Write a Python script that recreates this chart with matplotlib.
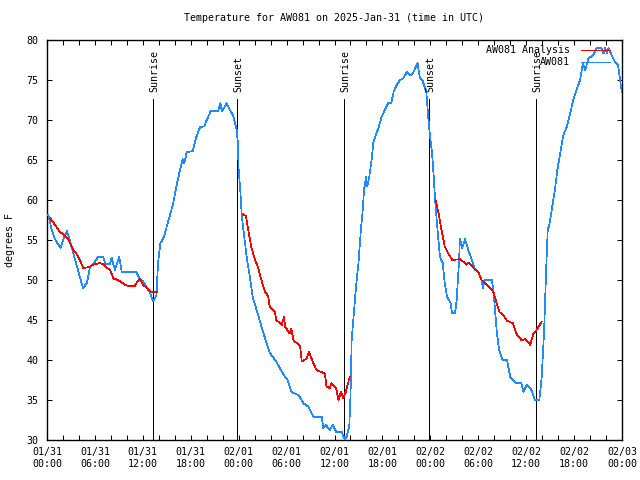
import numpy as np
import matplotlib
matplotlib.use("Agg")
import matplotlib.pyplot as plt
from matplotlib.lines import Line2D

# ---- data (hours since 2025-01-31 00:00 UTC) ----
obs_hours = [0.16,0.6,1.0,1.7,2.0,2.5,2.8,3.3,3.7,4.5,
             5.0,5.4,5.8,6.4,7.05,7.3,7.9,8.1,8.5,9.05,
             9.35,11.2,11.65,12.0,12.5,12.9,13.3,13.7,13.9,14.2,
             14.65,15.0,15.4,15.8,16.2,16.65,17.0,17.2,17.5,18.25,
             18.7,19.15,19.7,20.0,20.5,21.45,21.7,21.9,22.5,22.9,
             23.3,23.75,23.9,24.0,24.2,24.4,24.7,25.0,25.4,25.75,
             26.25,26.9,27.5,27.9,28.7,29.2,29.8,30.1,30.6,31.5,
             32.1,32.7,33.35,34.4,34.6,34.9,35.4,35.8,36.2,36.9,
             37.3,37.5,37.85,38.0,38.15,38.35,38.7,39.0,39.3,39.5,
             39.7,39.95,40.1,40.35,40.65,40.85,41.1,41.5,41.9,42.3,
             42.7,43.1,43.4,43.8,44.2,44.6,45.05,45.5,45.9,46.4,
             46.7,47.0,47.5,47.75,47.95,48.2,48.4,48.6,48.7,48.9,
             49.2,49.55,49.8,50.1,50.55,50.7,51.1,51.3,51.6,51.7,
             52.0,52.35,52.75,53.2,53.6,54.0,54.4,54.6,54.8,55.7,
             55.9,56.1,56.3,56.6,57.05,57.6,58.0,58.8,59.4,59.65,
             60.1,60.7,61.1,61.65,61.95,62.25,62.5,62.7,62.9,63.2,
             63.6,63.9,64.25,64.65,65.1,65.5,65.9,66.3,66.75,67.1,
             67.4,67.8,68.4,68.8,69.4,69.7,69.9,70.1,70.3,70.7,
             71.1,71.5,71.9,72.0]
obs_temps = [58.1,56.25,55.1,54,55,56.1,55.2,53.3,51.9,49,
             49.6,51.7,52,52.9,52.9,52,52,52.8,51.25,52.9,
             51,51,50,49.9,49,48.4,47.3,48.1,52.1,54.6,
             55.4,56.7,58.1,59.6,61.7,63.75,65.1,64.6,66,66.1,
             67.9,69.1,69.2,70,71.1,71.1,72.1,71.1,72.1,71.25,
             70.6,68.75,67.1,63.75,61.25,57.9,55.4,52.9,50.4,47.9,
             46.25,44,42.1,40.9,39.8,38.9,37.9,37.6,36,35.6,
             34.6,34.2,32.9,32.9,31.5,31.9,31.25,31.9,31,31,
             30,30.4,31.7,35.4,42.5,45,49.2,52.1,56.25,58.3,
             61.25,62.9,61.7,62.9,65,67.1,67.9,69,70.4,71.25,
             72.1,72.1,73.5,74.4,75,75.2,76,75.6,76,77.1,
             75.2,75,73.5,70.2,68.1,66,63.3,60,58.75,56.25,
             52.9,52.1,49.6,47.9,47.1,45.9,45.9,47.5,52.5,55.1,
             54,55.1,53.75,52.5,51.25,51,50,49,50,50,
             48.75,46.25,43.75,41.25,40,40,37.9,37.1,37.1,36,
             36.9,36.2,35,35,37.9,43.75,51.25,56.25,56.9,58.75,
             61.25,63.75,65.8,68.1,69.2,70.8,72.5,73.75,75,77.1,
             76.25,77.7,78.1,79,79,78.3,79,78.3,79,78.1,
             77.3,76.9,74,73.5]

ana_hours = [0.4,1.0,1.6,2.0,2.7,3.3,3.7,4.1,4.55,5.2,
             5.8,6.55,7.05,7.5,7.9,8.3,8.9,9.8,10.4,11.0,
             11.3,11.65,12.0,12.5,13.1,13.8,
             np.nan,
             24.6,24.9,25.2,25.6,26.0,26.45,26.9,27.3,27.7,27.8,
             27.9,28.55,28.7,29.4,29.7,29.8,30.4,30.6,30.85,31.7,
             31.9,32.5,32.8,33.35,33.75,34.8,35.0,35.4,35.6,36.2,
             36.5,36.8,37.1,37.4,37.7,37.9,
             np.nan,
             48.65,49.0,49.4,49.8,50.25,50.75,51.7,52.1,52.55,52.8,
             53.4,54.0,54.4,55.05,55.9,56.3,56.65,57.15,57.6,58.35,
             58.8,59.4,59.9,60.5,60.9,61.3,61.7,61.95]
ana_temps = [57.7,56.9,56,55.75,55,53.75,53.25,52.5,51.5,51.6,
             51.9,52.1,52,51.5,51.3,50.2,50,49.4,49.2,49.25,
             49.8,50.2,49.4,49,48.5,48.5,
             np.nan,
             58.2,58.0,56.25,54,52.7,51.5,49.8,48.5,48.0,47.2,
             46.7,46,45,44.4,45.4,44.2,43.3,43.9,42.5,41.7,
             39.8,40.2,41,39.6,38.75,38.3,36.7,36.5,37.1,36.5,
             35,36,35.2,36,37.1,37.9,
             np.nan,
             60,58.5,56.25,54.2,53.3,52.5,52.6,52.3,51.9,52.2,
             51.5,51,50,49.4,48.5,47.1,46,45.6,44.9,44.6,
             43.25,42.5,42.6,41.9,43.3,43.75,44.4,44.8]

sun_hours = [13.3, 23.83, 37.23, 47.83, 61.27]
sun_labels = ["Sunrise", "Sunset", "Sunrise", "Sunset", "Sunrise"]

xtick_hours = list(range(0, 73, 6))
xtick_labels = ["01/31\n00:00", "01/31\n06:00", "01/31\n12:00", "01/31\n18:00",
                "02/01\n00:00", "02/01\n06:00", "02/01\n12:00", "02/01\n18:00",
                "02/02\n00:00", "02/02\n06:00", "02/02\n12:00", "02/02\n18:00",
                "02/03\n00:00"]
yticks = list(range(30, 81, 5))

series_names = ["AW081 Analysis", "AW081"]
series_colors = ["#ff0000", "#1a8cff"]

# ---- plotting ----
FONT = "DejaVu Sans Mono"
FS = 7.2
LW = 0.5
plt.rcParams['font.family'] = [FONT]
plt.rcParams['font.size'] = FS

fig = plt.figure(figsize=(6.4, 4.8), dpi=100)
ax = fig.add_axes([47/640, 40/480, 575/640, 400/480])

ax.plot(obs_hours, obs_temps, color=series_colors[1], lw=LW, antialiased=False, zorder=3)
ax.plot(ana_hours, ana_temps, color=series_colors[0], lw=LW, antialiased=False, zorder=4)

sun_top = 72.6
for h, lab in zip(sun_hours, sun_labels):
    ax.plot([h, h], [30, sun_top], color="black", lw=LW, antialiased=False, zorder=2)
    ax.text(h + 0.15, sun_top + 0.85, lab, rotation=90, ha="center", va="bottom",
            fontsize=FS, color="black")

ax.set_xlim(0, 72)
ax.set_ylim(30, 80)
ax.set_xticks(xtick_hours)
ax.set_xticklabels(xtick_labels)
ax.set_xticks(np.arange(0, 73, 2), minor=True)
ax.set_yticks(yticks)
ax.tick_params(axis="both", which="both", direction="in", top=True, right=True,
               length=3.5, width=0.75, labelsize=FS)
ax.tick_params(axis="y", pad=6)
ax.tick_params(axis="x", pad=5)
for s in ax.spines.values():
    s.set_linewidth(1.0)

ax.set_ylabel("degrees F", fontsize=FS)
ax.yaxis.set_label_coords(-0.0557, 0.5)
ax.set_title("Temperature for AW081 on 2025-Jan-31 (time in UTC)", fontsize=FS, pad=14)

# legend (manual, gnuplot style: text right-aligned, sample to the right)
for i, (name, col) in enumerate(zip(series_names, series_colors)):
    ypix = 49.7 + 12.6 * i
    yfrac = 1 - (ypix - 40) / 400
    ax.text((570 - 47) / 575, yfrac, name, transform=ax.transAxes, ha="right",
            va="center", fontsize=FS, zorder=6)
    ax.add_line(Line2D([(581 - 47) / 575, (610 - 47) / 575], [yfrac, yfrac],
                       transform=ax.transAxes, color=col, lw=LW, antialiased=False, zorder=6))

fig.savefig("out.png", dpi=100)
